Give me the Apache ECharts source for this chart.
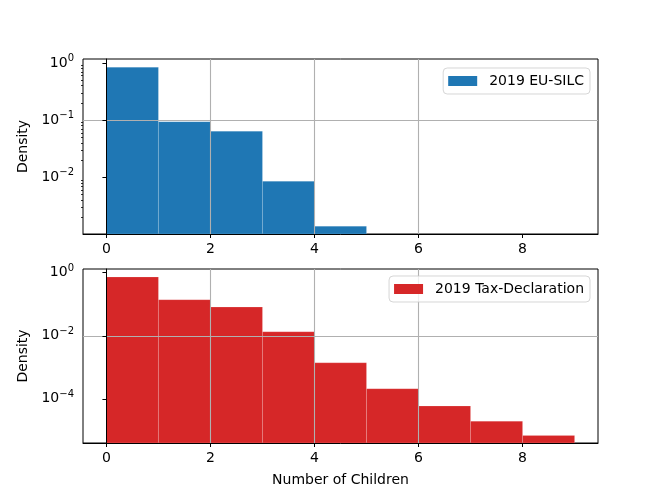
<!DOCTYPE html>
<html>
<head>
<meta charset="utf-8">
<script src="https://cdn.jsdelivr.net/npm/echarts@6/dist/echarts.min.js"></script>
<style>html,body{margin:0;padding:0;background:#fff}#c{width:664px;height:498px}</style>
</head>
<body>
<div id="c"></div>
<script>
// Histogram bin edges (number of children)
var binEdges = [0, 1, 2, 3, 4, 5, 6, 7, 8, 9];
// Densities per bin
var euSilc2019 = [0.84, 0.094, 0.064, 0.0085, 0.0014];
var taxDecl2019 = [0.73, 0.139, 0.081, 0.0134, 0.00139, 0.00021, 0.000059, 0.0000196, 0.0000069];
var xTicks = [0, 2, 4, 6, 8];
var yTicksTop = [0.01, 0.1, 1];
var yTicksBottom = [0.0001, 0.01, 1];
var yMinorTop = [0.002, 0.003, 0.004, 0.005, 0.006, 0.007, 0.008, 0.009,
                 0.02, 0.03, 0.04, 0.05, 0.06, 0.07, 0.08, 0.09,
                 0.2, 0.3, 0.4, 0.5, 0.6, 0.7, 0.8, 0.9];
var seriesNames = ['2019 EU-SILC', '2019 Tax-Declaration'];

var FONT = 'DejaVu Sans';
function logFmt(v) {
  var e = Math.round(Math.log10(v));
  return '{b|10}{s|' + String(e).replace('-', '\u2212') + '}';
}
function histData(vals) {
  return vals.map(function (v, i) { return [binEdges[i], binEdges[i + 1], v]; });
}
function renderBar(params, api) {
  var y = api.value(2);
  var p0 = api.coord([api.value(0), y]);
  var p1 = api.coord([api.value(1), y]);
  var cs = params.coordSys;
  var bottom = cs.y + cs.height;
  return {
    type: 'rect',
    shape: {x: p0[0], y: p0[1], width: p1[0] - p0[0], height: bottom - p0[1]},
    style: api.style({lineWidth: 0.6})
  };
}
var splitStyle = {show: true, showMinLine: false, showMaxLine: false, lineStyle: {color: '#b0b0b0', width: 1.1}};

function xAxisCfg(idx, withName) {
  var a = {
    type: 'value', gridIndex: idx, min: -0.45, max: 9.45, splitNumber: 5, z: 5,
    axisLine: {show: true, onZero: false, lineStyle: {color: '#000', width: 1}},
    axisTick: {show: true, length: 4, inside: false, customValues: xTicks, lineStyle: {color: '#000'}},
    axisLabel: {customValues: xTicks, color: '#000', fontSize: 14, fontFamily: FONT, margin: 8},
    splitLine: splitStyle
  };
  if (withName) {
    a.name = 'Number of Children';
    a.nameLocation = 'middle';
    a.nameGap = 30;
    a.nameTextStyle = {color: '#000', fontSize: 14, fontFamily: FONT};
  }
  return a;
}
function yAxisCfg(idx, base, min, max, ticks) {
  return {
    type: 'log', logBase: base, gridIndex: idx, min: min, max: max, z: 5,
    name: 'Density', nameLocation: 'middle', nameGap: 47,
    nameTextStyle: {color: '#000', fontSize: 14, fontFamily: FONT},
    axisLine: {show: true, lineStyle: {color: '#000', width: 1}},
    axisTick: {show: true, length: 4, inside: false, customValues: ticks, lineStyle: {color: '#000'}},
    axisLabel: {customValues: ticks, formatter: logFmt, color: '#000', fontFamily: FONT, margin: 9,
      rich: {b: {fontSize: 14, fontFamily: FONT, color: '#000'},
             s: {fontSize: 10, fontFamily: FONT, color: '#000', padding: [0, 0, 9, 0]}}},
    splitLine: splitStyle
  };
}

var chart = echarts.init(document.getElementById('c'), null, {renderer: 'canvas'});
var legendBase = {
  orient: 'vertical', icon: 'rect', itemWidth: 29, itemHeight: 10,
  backgroundColor: 'rgba(255,255,255,0.8)', borderColor: 'rgba(204,204,204,0.8)', borderWidth: 1, borderRadius: 4,
  padding: [6, 6, 6, 5], z: 10,
  textStyle: {color: '#000', fontSize: 14, fontFamily: FONT, padding: [0, 0, 0, 7]}
};
var yTop = yAxisCfg(0, 10, 0.00102, 1.17, yTicksTop);
var yBot = yAxisCfg(1, 100, Math.pow(10, -5.4), Math.pow(10, 0.117), yTicksBottom);
var yMinor = {
  type: 'log', logBase: 10, gridIndex: 0, min: 0.00102, max: 1.17, z: 5, position: 'left',
  axisLine: {show: false},
  axisTick: {show: true, length: 2, inside: false, customValues: yMinorTop, lineStyle: {color: '#000', width: 0.8}},
  axisLabel: {show: false},
  splitLine: {show: false}
};
chart.setOption({
  animation: false,
  backgroundColor: '#fff',
  grid: [
    {left: 83, width: 515, top: 59, height: 175, show: true, borderColor: '#000', borderWidth: 1, backgroundColor: 'transparent'},
    {left: 83, width: 515, top: 269, height: 174, show: true, borderColor: '#000', borderWidth: 1, backgroundColor: 'transparent'}
  ],
  legend: [
    Object.assign({}, legendBase, {data: [seriesNames[0]], right: 74, top: 68}),
    Object.assign({}, legendBase, {data: [seriesNames[1]], right: 74, top: 276})
  ],
  xAxis: [xAxisCfg(0, false), xAxisCfg(1, true)],
  yAxis: [yTop, yBot, yMinor],
  series: [
    {
      name: seriesNames[0], type: 'custom', xAxisIndex: 0, yAxisIndex: 0, z: 2,
      itemStyle: {color: '#1f77b4', borderColor: 'rgba(255,255,255,0.25)'},
      renderItem: renderBar, encode: {x: [0, 1], y: 2}, data: histData(euSilc2019)
    },
    {
      name: seriesNames[1], type: 'custom', xAxisIndex: 1, yAxisIndex: 1, z: 2,
      itemStyle: {color: '#d62728', borderColor: 'rgba(255,255,255,0.25)'},
      renderItem: renderBar, encode: {x: [0, 1], y: 2}, data: histData(taxDecl2019)
    }
  ]
});
</script>
</body>
</html>
